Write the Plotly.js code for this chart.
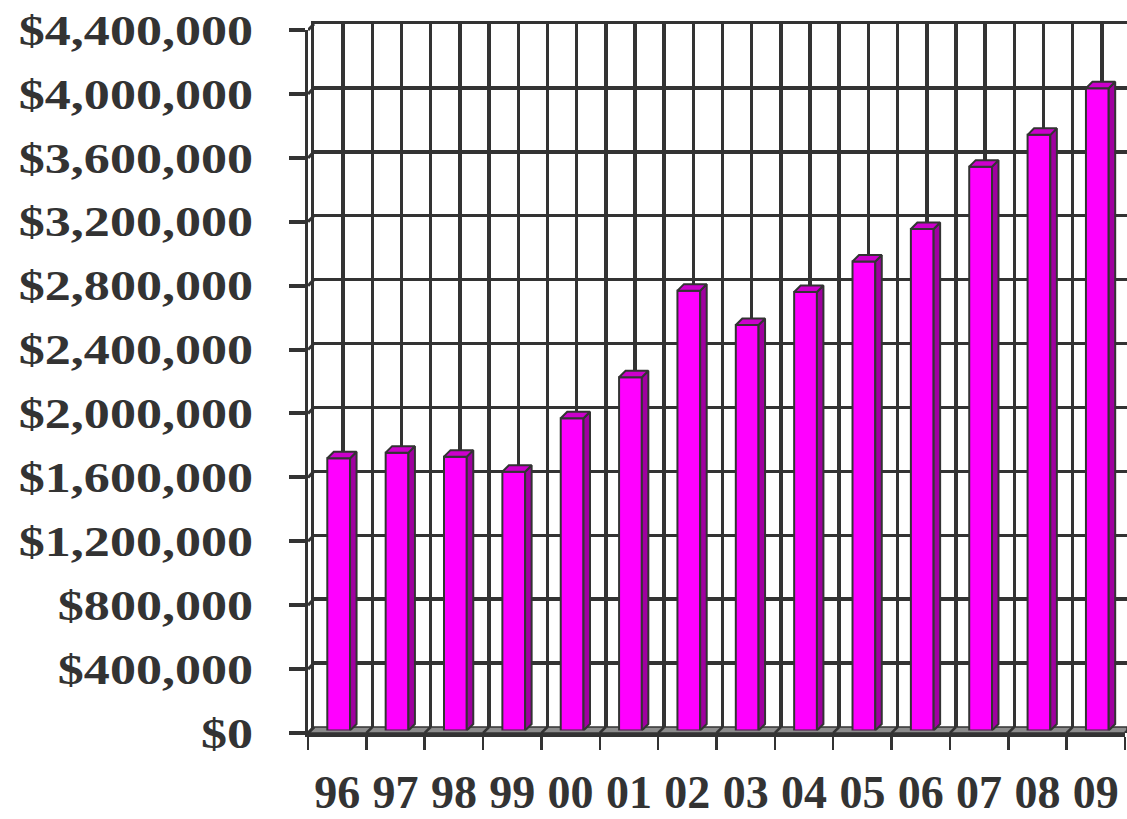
<!DOCTYPE html>
<html>
<head>
<meta charset="utf-8">
<script src="https://cdn.plot.ly/plotly-3.0.1.min.js"></script>
<style>
  html, body { margin: 0; padding: 0; background: #ffffff; }
  #chart { width: 1127px; height: 819px; }
</style>
</head>
<body>
<div id="chart"></div>
<script>
// ---------- data ----------
const categories = ['96','97','98','99','00','01','02','03','04','05','06','07','08','09'];
const revenue = [1704000, 1739000, 1714000, 1620000, 1954000, 2211000, 2753000,
                 2538000, 2745000, 2935000, 3139000, 3529000, 3728000, 4020000];
const yTickVals = [0, 400000, 800000, 1200000, 1600000, 2000000, 2400000,
                   2800000, 3200000, 3600000, 4000000, 4400000];
const yTickText = ['$0', '$400,000', '$800,000', '$1,200,000', '$1,600,000', '$2,000,000',
                   '$2,400,000', '$2,800,000', '$3,200,000', '$3,600,000', '$4,000,000', '$4,400,000'];

// ---------- geometry (pixels) ----------
const W = 1127, H = 819, L = 308, T = 24, B = 86;
const PW = W - L, PH = H - T - B;        // plot area
const nCat = categories.length;
const catPx = 817 / nCat;                // px per category
const yMax = yTickVals[yTickVals.length - 1];
const valSpanPx = 703;                   // px for 0..yMax
const pxPerVal = valSpanPx / yMax;
const wallDepth = 6;                     // px offset of back wall
const barOx = 1.5, barOy = 2.5;          // bar plane offset
const barDepth = 6.5;                    // bar 3D depth in px
const barWidth = 0.39;
const yLabelStretch = 1.24;              // horizontal stretch of y tick labels

const dark = '#333333';
const fontFam = '"Liberation Serif", "Times New Roman", serif';

const idx = categories.map((c, i) => i);

// floor + wall decorations (decor subplot coordinates)
const dxW = wallDepth / catPx, dyW = wallDepth / pxPerVal;
const decorXEnd = -0.5 + PW / catPx;
const floorX = [-0.5, decorXEnd, decorXEnd, -0.5 + dxW, -0.5];
const floorY = [0, 0, dyW, dyW, 0];
const diagX = [], diagY = [];
for (let i = 0; i <= nCat; i++) {
  const b = i - 0.5;
  diagX.push(b, b + dxW, null);
  diagY.push(0, dyW, null);
}
const wallX = [], wallY = [];
yTickVals.forEach(v => { wallX.push(-0.5, -0.5 + dxW, null); wallY.push(v, v + dyW, null); });

// bar 3D faces
const dxB = barDepth / catPx, dyB = barDepth / pxPerVal;
const sideX = [], sideY = [], topX = [], topY = [];
idx.forEach((i) => {
  const v = revenue[i];
  const r = i + barWidth / 2, l = i - barWidth / 2;
  sideX.push(r, r, r + dxB, r + dxB, r, null);
  sideY.push(0, v, v + dyB, dyB, 0, null);
  topX.push(l, r, r + dxB, l + dxB, l, null);
  topY.push(v, v, v + dyB, v + dyB, v, null);
});

const traces = [
  { type: 'scatter', x: [0], y: [0], mode: 'none', xaxis: 'x', yaxis: 'y', hoverinfo: 'skip', showlegend: false },
  { type: 'scatter', x: floorX, y: floorY, mode: 'lines', fill: 'toself', fillcolor: '#8c8c8c',
    line: { color: dark, width: 1.5 }, xaxis: 'x2', yaxis: 'y2', hoverinfo: 'skip', showlegend: false },
  { type: 'scatter', x: diagX, y: diagY, mode: 'lines', line: { color: dark, width: 2.5 },
    xaxis: 'x2', yaxis: 'y2', hoverinfo: 'skip', showlegend: false },
  { type: 'scatter', x: wallX, y: wallY, mode: 'lines', line: { color: dark, width: 3 },
    xaxis: 'x2', yaxis: 'y2', hoverinfo: 'skip', showlegend: false },
  { type: 'bar', x: idx, y: revenue, width: barWidth, xaxis: 'x3', yaxis: 'y3',
    marker: { color: '#ff00ff', line: { color: dark, width: 2 } }, hoverinfo: 'skip', showlegend: false },
  { type: 'scatter', x: sideX, y: sideY, mode: 'lines', fill: 'toself', fillcolor: '#a000a0',
    line: { color: dark, width: 2 }, xaxis: 'x3', yaxis: 'y3', hoverinfo: 'skip', showlegend: false },
  { type: 'scatter', x: topX, y: topY, mode: 'lines', fill: 'toself', fillcolor: '#cc00cc',
    line: { color: dark, width: 2 }, xaxis: 'x3', yaxis: 'y3', hoverinfo: 'skip', showlegend: false },
  { type: 'scatter', x: categories, y: revenue, mode: 'none', xaxis: 'x4', yaxis: 'y4', hoverinfo: 'skip', showlegend: false }
];

const hiddenAxis = { showgrid: false, zeroline: false, showticklabels: false, ticks: '', showline: false, fixedrange: true };

const layout = {
  width: W, height: H,
  margin: { l: L, r: 0, t: T, b: B, pad: 0 },
  paper_bgcolor: '#ffffff', plot_bgcolor: 'rgba(0,0,0,0)',
  showlegend: false,
  xaxis: { domain: [wallDepth / PW, 1], range: [-0.5, -0.5 + (PW - wallDepth) / catPx], anchor: 'y',
    tick0: -0.5, dtick: 0.5, showgrid: true, gridcolor: dark, gridwidth: 3.5,
    zeroline: false, showticklabels: false, ticks: '', showline: true, mirror: true, linecolor: dark, linewidth: 3.5 },
  yaxis: { domain: [wallDepth / PH, 1], range: [0, yMax], anchor: 'x',
    tick0: 0, dtick: 400000, showgrid: true, gridcolor: dark, gridwidth: 3.5,
    zeroline: false, showticklabels: false, ticks: '', showline: true, mirror: true, linecolor: dark, linewidth: 3.5 },
  xaxis2: Object.assign({}, hiddenAxis, { domain: [0, 1], range: [-0.5, decorXEnd], anchor: 'y2' }),
  yaxis2: Object.assign({}, hiddenAxis, { domain: [0, 1], range: [0, PH / pxPerVal], anchor: 'x2' }),
  xaxis3: Object.assign({}, hiddenAxis, { domain: [barOx / PW, 1], range: [-0.5, -0.5 + (PW - barOx) / catPx], anchor: 'y3' }),
  yaxis3: Object.assign({}, hiddenAxis, { domain: [barOy / PH, 1], range: [0, (PH - barOy) / pxPerVal], anchor: 'x3' }),
  xaxis4: { domain: [0, 817 / PW], anchor: 'y4', type: 'category', categoryarray: categories, categoryorder: 'array',
    range: [-0.5, nCat - 0.5], tickson: 'boundaries', ticks: 'outside', ticklen: 13, tickwidth: 2.5, tickcolor: dark,
    showgrid: false, zeroline: false, showline: true, linecolor: dark, linewidth: 3.5,
    tickfont: { family: fontFam, size: 46, color: dark, weight: 'bold' }, ticklabelstandoff: 16 },
  yaxis4: { domain: [0, valSpanPx / PH], anchor: 'x4', range: [0, yMax], tickmode: 'array',
    tickvals: yTickVals, ticktext: yTickText, ticks: 'outside', ticklen: 16, tickwidth: 4, tickcolor: dark,
    showgrid: false, zeroline: false, showline: true, linecolor: dark, linewidth: 3.5,
    tickfont: { family: fontFam, size: 42, color: dark, weight: 'bold' }, ticklabelstandoff: 27 }
};

function stretchYLabels() {
  document.querySelectorAll('#chart .y4tick text, #chart .ytick text').forEach(t => {
    if (t.getAttribute('data-stretched')) return;
    const ax = parseFloat(t.getAttribute('x')) || 0;
    const prev = t.getAttribute('transform') || '';
    t.setAttribute('transform', (prev + ' translate(' + ax + ',0) scale(' + yLabelStretch + ',1) translate(' + (-ax) + ',0)').trim());
    t.setAttribute('data-stretched', '1');
  });
}

Plotly.newPlot('chart', traces, layout, { staticPlot: true, displayModeBar: false }).then(stretchYLabels);
</script>
</body>
</html>
